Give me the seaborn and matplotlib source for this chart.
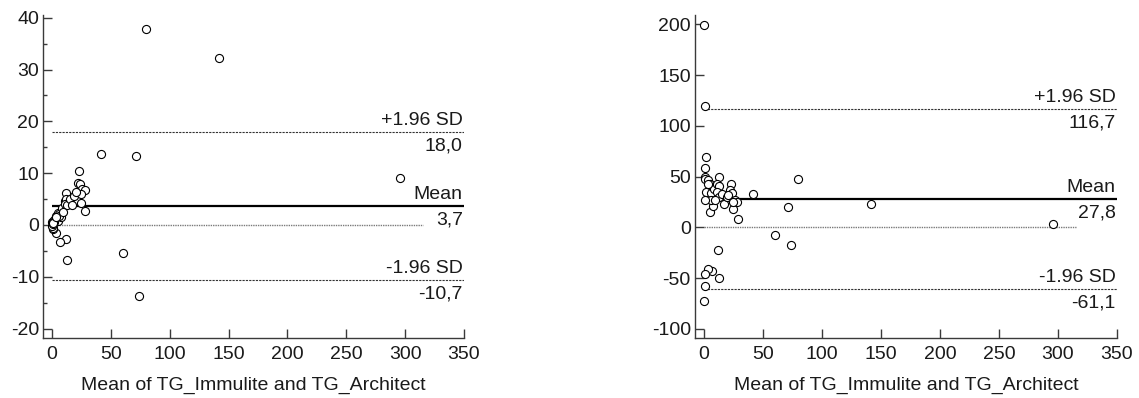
import matplotlib
matplotlib.use("Agg")
import matplotlib.pyplot as plt
import seaborn as sns
import pandas as pd
from matplotlib.ticker import MultipleLocator

sns.set_style("ticks")
plt.rcParams["font.family"] = ["Liberation Sans", "DejaVu Sans"]
plt.rcParams["axes.unicode_minus"] = False

# means of the two methods (shared x for both panels)
mean_vals = [79.6, 141.9, 41.5, 71.2, 295.5, 60.2, 74.0, 12.8, 12.0, 7.2,
             3.7, 1.2, 1.2, 0.3, 0.3, 0.5, 1.5, 0.8, 1.0, 0.5,
             23.0, 12.3, 28.4, 24.6, 5.2, 7.4,
             1.5, 3.7, 5.5, 6.2, 8.3, 10.8, 12.3, 11.4, 12.9, 15.4,
             16.9, 19.1, 22.2, 23.7, 25.9, 27.7, 24.3, 6.2, 1.2, 9.2,
             3.7, 20.0]
# absolute difference (left panel)
diff_vals = [37.9, 32.2, 13.6, 13.4, 9.0, -5.4, -13.8, -6.7, -2.8, -3.3,
             -1.5, -0.7, -0.55, -0.25, 0.5, 0.6, 1.0, 0.45, 0.5, 0.25,
             10.4, 6.1, 2.6, 4.3, 0.8, 1.5,
             0.5, 1.7, 2.3, 2.1, 3.2, 4.7, 5.0, 4.0, 3.8, 5.0,
             3.8, 5.6, 8.1, 7.9, 7.0, 6.8, 6.0, 1.7, 0.3, 2.5,
             1.6, 6.4]
# percentage difference (right panel)
pct_vals = [47.9, 23.0, 32.9, 19.5, 3.5, -8.0, -17.9, -49.8, -22.4, -43.5,
            -40.9, -57.8, -46.3, -72.2, 199.7, 119.8, 69.3, 58.5, 49.5, 47.3,
            43.1, 49.5, 8.6, 17.6, 15.0, 20.8,
            34.5, 47.0, 42.2, 33.9, 38.0, 43.1, 40.9, 34.8, 29.7, 32.6,
            22.7, 29.4, 36.7, 33.5, 27.2, 24.6, 24.6, 27.2, 26.5, 27.2,
            43.0, 32.0]

# mean and limits of agreement, as printed on the chart
left_stats = {"mean": 3.7, "upper": 18.0, "lower": -10.7}
right_stats = {"mean": 27.8, "upper": 116.7, "lower": -61.1}
left_labels = {"mean": "3,7", "upper": "18,0", "lower": "-10,7"}
right_labels = {"mean": "27,8", "upper": "116,7", "lower": "-61,1"}

x_ticks = [0, 50, 100, 150, 200, 250, 300, 350]
xlabel = "Mean of TG_Immulite and TG_Architect"

df = pd.DataFrame({"mean": mean_vals, "diff": diff_vals, "pct": pct_vals})

fig = plt.figure(figsize=(11.39, 3.98), dpi=100)
ax1 = fig.add_axes([0.0378, 0.151, 0.3696, 0.811])
ax2 = fig.add_axes([0.6102, 0.151, 0.3705, 0.811])

spine_c = "#3a3a3a"
txt_c = "#1a1a1a"
fs = 14


def draw(ax, ycol, stats, labels, ylim, yticks, minor):
    ax.hlines(0, 0, 315, colors="#7a7a7a", linestyles=(0, (1, 0.7)), lw=1.0, zorder=1)
    ax.hlines(stats["mean"], 0, 350, colors="black", lw=1.6, zorder=1)
    for k in ["upper", "lower"]:
        ax.hlines(stats[k], 0, 350, colors="#333333", linestyles=(0, (2, 1)), lw=0.8, zorder=1)
    sns.scatterplot(data=df, x="mean", y=ycol, ax=ax, marker="o", s=34,
                    facecolor="white", edgecolor="black", linewidth=0.8, zorder=3)

    names = {"upper": "+1.96 SD", "mean": "Mean", "lower": "-1.96 SD"}
    for k in ["upper", "mean", "lower"]:
        ax.annotate(names[k], (349, stats[k]), xytext=(0, 5), textcoords="offset points",
                    ha="right", va="baseline", fontsize=fs, color=txt_c)
        ax.annotate(labels[k], (349, stats[k]), xytext=(0, -4), textcoords="offset points",
                    ha="right", va="top", fontsize=fs, color=txt_c)

    ax.set_xlim(-7.6, 350)
    ax.set_ylim(*ylim)
    ax.set_xticks(x_ticks)
    ax.set_yticks(yticks)
    if minor:
        ax.yaxis.set_minor_locator(MultipleLocator(minor))
    ax.tick_params(axis="both", which="major", direction="in", length=6.5, width=1,
                   color=spine_c, labelsize=fs, labelcolor=txt_c)
    ax.tick_params(axis="x", pad=6)
    ax.tick_params(axis="y", pad=3)
    ax.tick_params(axis="y", which="minor", direction="in", length=3.2, width=1, color=spine_c)
    for s in ["top", "right"]:
        ax.spines[s].set_visible(False)
    for s in ["left", "bottom"]:
        ax.spines[s].set_color(spine_c)
        ax.spines[s].set_linewidth(1)
    ax.set_xlabel(xlabel, fontsize=fs, color=txt_c, labelpad=10)
    ax.set_ylabel("")


draw(ax1, "diff", left_stats, left_labels, (-21.8, 40.5), [-20, -10, 0, 10, 20, 30, 40], 5)
draw(ax2, "pct", right_stats, right_labels, (-109, 209), [-100, -50, 0, 50, 100, 150, 200], None)

fig.savefig("out.png", dpi=100)
